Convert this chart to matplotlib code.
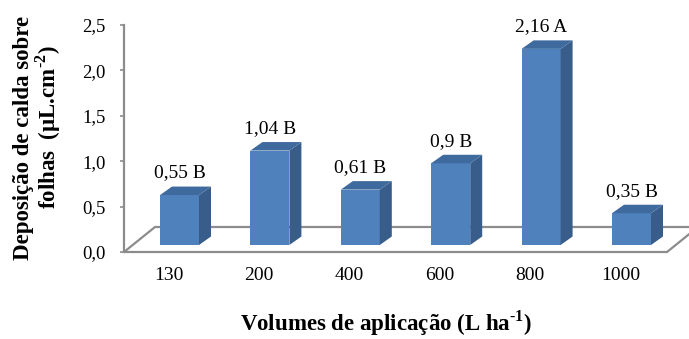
import matplotlib
matplotlib.use("Agg")
import matplotlib.pyplot as plt
from matplotlib.patches import Polygon

# Data
volumes = ['130', '200', '400', '600', '800', '1000']
deposicao = [0.55, 1.04, 0.61, 0.90, 2.16, 0.35]
letras = ['B', 'B', 'B', 'B', 'A', 'B']
y_ticks = [0.0, 0.5, 1.0, 1.5, 2.0, 2.5]

plt.rcParams['font.family'] = ['Liberation Serif', 'DejaVu Serif']
plt.rcParams['mathtext.fontset'] = 'custom'
plt.rcParams['mathtext.rm'] = 'Liberation Serif'
plt.rcParams['mathtext.bf'] = 'Liberation Serif:bold'

W, H = 689, 339
fig = plt.figure(figsize=(W / 100, H / 100), dpi=100)

ax_l, ax_top, ax_bot = 124, 25, 252
ax_w, ax_h = W - ax_l, ax_bot - ax_top
ax = fig.add_axes([ax_l / W, (H - ax_bot) / H, ax_w / W, ax_h / H])

px_x = 90.4          # pixels per category step
ymax = 2.5
px_y = ax_h / ymax   # pixels per unit value
x0 = -(168.5 - ax_l) / px_x
ax.set_xlim(x0, x0 + ax_w / px_x)
ax.set_ylim(0, ymax)


def dx(p):
    return p / px_x


def dy(p):
    return p / px_y


front = '#4F81BD'
side = '#385D8A'
top = '#3F6A9E'
grey = '#8C8C8C'

# floor of the 3-D plot
fx_end = dx(667 - 168.5)
bdx, bdy = dx(31), dy(25)
floor = Polygon([(x0, 0), (fx_end, 0), (fx_end + bdx, bdy), (x0 + bdx, bdy)],
                closed=True, facecolor='white', edgecolor=grey, lw=1.6,
                zorder=1, clip_on=False)
ax.add_patch(floor)

# 3-D columns
off_x, off_y = dx(11), dy(7)
bw = dx(39)
sdx, sdy = dx(12), dy(8.5)
xs = list(range(len(volumes)))
for i, v in enumerate(deposicao):
    xl = i + off_x - bw / 2
    xr = xl + bw
    b = off_y
    t = off_y + v
    ax.bar(xl, v, width=bw, bottom=b, align='edge', color=front,
           edgecolor='none', zorder=3)
    ax.add_patch(Polygon([(xr, b), (xr + sdx, b + sdy), (xr + sdx, t + sdy), (xr, t)],
                         closed=True, facecolor=side, edgecolor='none', zorder=3,
                         clip_on=False))
    ax.add_patch(Polygon([(xl, t), (xr, t), (xr + sdx, t + sdy), (xl + sdx, t + sdy)],
                         closed=True, facecolor=top, edgecolor='none', zorder=3,
                         clip_on=False))
    lab = f"{v:.2f}".rstrip('0').replace('.', ',') + ' ' + letras[i]
    ax.text(i + off_x, t + sdy + dy(5), lab, ha='center', va='bottom',
            fontsize=14, color='black', zorder=4, clip_on=False)

# axes styling
for s in ['top', 'right', 'bottom']:
    ax.spines[s].set_visible(False)
ax.spines['left'].set_color(grey)
ax.spines['left'].set_linewidth(1.6)
ax.set_yticks(y_ticks)
ax.set_yticklabels([f"{t:.1f}".replace('.', ',') for t in y_ticks], fontsize=13.5)
ax.tick_params(axis='y', length=3, width=1.2, color=grey, pad=10)
ax.set_xticks(xs)
ax.set_xticklabels(volumes, fontsize=14)
ax.tick_params(axis='x', length=0, pad=11)
ax.patch.set_visible(False)

fig.text(24 / W, 1 - 138 / H, 'Deposição de calda sobre', rotation=90,
         ha='center', va='center', fontsize=16.5, fontweight='bold')
fig.text(48 / W, 1 - 127 / H, 'folhas  (µL.cm$^{\\mathbf{\u2010}\\mathbf{2}}$)', rotation=90,
         ha='center', va='center', fontsize=16.5, fontweight='bold')
fig.text(386 / W, 1 - 323 / H, 'Volumes de aplicação (L ha$^{\\mathbf{\u2010}\\mathbf{1}}$)',
         ha='center', va='center', fontsize=16.5, fontweight='bold')

fig.savefig('out.png', dpi=100)
